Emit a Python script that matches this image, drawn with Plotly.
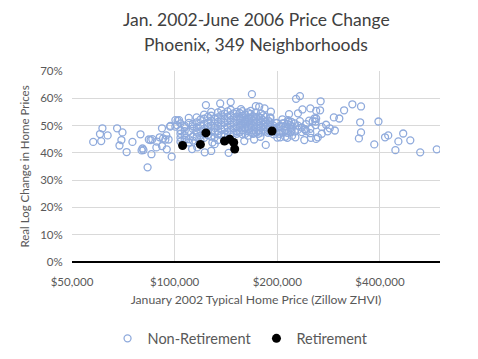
import math
import plotly.graph_objects as go

# Non-retirement neighborhoods: (January 2002 price in $ thousands, real log change in %)
left_tail = [
    (57.7, 44.0), (61.4, 49.0), (60.4, 46.9), (63.6, 46.4), (60.9, 44.3), (67.8, 49.0),
    (70.3, 47.5), (69.8, 44.7), (68.9, 42.7), (72.3, 40.3), (75.2, 44.0), (79.4, 46.8),
    (83.3, 34.7), (80.5, 41.6), (81.0, 41.0), (80.0, 40.9), (85.5, 39.5), (84.0, 44.9),
    (85.0, 44.7), (86.0, 45.0), (88.4, 42.0), (88.7, 44.1), (90.4, 45.7), (92.5, 45.3),
    (93.9, 44.9), (96.0, 44.9), (94.5, 46.4), (91.8, 49.0), (91.8, 42.5), (94.8, 41.3),
    (97.1, 49.9), (98.0, 38.6), (100.5, 52.0), (102.0, 51.8), (103.0, 52.0), (100.5, 49.6),
    (101.5, 50.2), (97.0, 49.6),
]

upper_and_right = [
    (268, 58.9), (332, 57.8), (352, 57.0), (314, 55.6), (293, 53.0), (304, 52.6),
    (350, 51.2), (396, 51.5), (281, 47.9), (295, 48.2), (352, 47.5), (347, 45.3),
    (385, 43.1), (414, 45.7), (423, 46.4), (468, 47.1), (453, 44.2), (491, 44.6),
    (444, 41.0), (525, 40.2), (587, 41.3), (168.5, 61.5), (227, 59.8), (233, 60.8),
    (123.5, 57.5), (136, 58.1), (146, 58.6), (156.5, 56.0), (173, 57.1), (177, 56.9),
    (183.5, 56.3), (191.5, 55.1), (216.5, 54.2), (230, 54.5), (237, 55.9), (250, 56.3),
    (260, 55.4), (267, 55.6), (233, 51.6), (248, 51.8), (259, 51.5), (257, 52.6),
    (241, 48.5), (219, 49.0), (219, 47.7), (204, 45.7), (214, 45.5), (226, 45.7),
    (213, 47.4), (251, 45.5), (260, 45.1), (263, 45.7), (240, 44.7), (185, 42.9),
    (178.5, 45.9), (171, 44.9), (160, 44.3), (144, 40.0), (128, 40.7), (122.5, 40.2),
    (112.5, 41.4), (116.5, 42.0), (131, 43.2), (134, 44.7), (129, 43.8), (156.5, 50.4),
    (161, 51.6), (156, 52.6), (165, 52.6), (254, 51.6), (259, 50.2), (260, 52.6),
    (241, 48.7), (221, 46.3), (211, 45.9), (200, 45.6), (218, 50.2), (222, 49.6),
    (216, 51.4), (209.5, 50.9), (205, 49.6), (198.5, 50.9), (195.5, 49.0), (190.5, 52.7),
]

core = [
    (104, 45.5), (104, 47.0), (104, 48.3), (104, 50.8), (104, 44.1),
    (107, 46.5), (107, 48.0), (107, 50.0), (107, 44.8), (107, 49.4),
    (110, 45.0), (110, 47.8), (110, 51.0), (110, 52.8), (110, 43.8),
    (113, 46.0), (113, 48.8), (113, 50.5), (113, 44.5), (113, 49.8),
    (116, 47.5), (116, 49.3), (116, 51.2), (116, 45.8), (116, 53.0),
    (119, 48.0), (119, 50.0), (119, 52.2), (119, 46.3), (119, 44.8),
    (122, 47.0), (122, 48.8), (122, 50.6), (122, 52.5), (122, 45.5), (122, 54.0),
    (125, 47.8), (125, 49.4), (125, 51.0), (125, 53.2), (125, 46.5),
    (128, 46.0), (128, 48.0), (128, 50.0), (128, 51.8), (128, 53.6), (128, 55.0),
    (131, 47.5), (131, 49.2), (131, 50.8), (131, 52.4), (131, 45.6),
    (134, 48.0), (134, 49.8), (134, 51.3), (134, 53.0), (134, 54.8), (134, 46.8),
    (137, 46.5), (137, 48.6), (137, 50.2), (137, 52.0), (137, 53.8), (137, 55.5),
    (140, 47.0), (140, 49.0), (140, 51.0), (140, 52.6), (140, 54.4), (140, 46.0),
    (143, 47.8), (143, 49.6), (143, 51.6), (143, 53.3), (143, 55.2),
    (146, 46.8), (146, 48.4), (146, 50.3), (146, 52.0), (146, 53.8), (146, 55.8),
    (149, 47.3), (149, 49.0), (149, 51.0), (149, 52.8), (149, 54.5),
    (152, 48.0), (152, 49.8), (152, 51.7), (152, 53.3), (152, 55.0), (152, 47.0),
    (155, 47.5), (155, 49.3), (155, 51.0), (155, 52.8), (155, 54.6),
    (158, 48.3), (158, 50.0), (158, 51.8), (158, 53.5), (158, 55.3), (158, 46.8),
    (161, 47.0), (161, 49.0), (161, 50.8), (161, 52.3), (161, 54.0),
    (164, 48.0), (164, 49.6), (164, 51.3), (164, 53.0), (164, 54.8), (164, 46.3),
    (167, 47.5), (167, 49.2), (167, 50.8), (167, 52.6), (167, 54.3), (167, 55.4),
    (170, 48.2), (170, 50.0), (170, 51.8), (170, 53.4), (170, 47.0),
    (173, 47.6), (173, 49.4), (173, 51.2), (173, 53.0), (173, 54.8),
    (176, 48.0), (176, 49.8), (176, 51.5), (176, 53.3), (176, 47.0),
    (179, 47.4), (179, 49.2), (179, 51.0), (179, 52.8), (179, 54.5),
    (182, 48.5), (182, 50.3), (182, 52.0), (182, 53.8),
    (185, 47.8), (185, 49.6), (185, 51.4), (185, 53.2),
    (188, 48.3), (188, 50.0), (188, 51.8), (188, 47.3),
    (191, 47.6), (191, 49.5), (191, 51.2), (191, 53.0),
    (195, 48.0), (195, 50.0), (195, 46.8),
    (199, 47.5), (199, 49.2), (199, 51.0),
    (203, 48.0), (203, 49.8), (203, 47.0),
    (207, 47.5), (207, 50.8), (207, 52.3),
    (211, 48.0), (211, 49.6),
    (215, 47.3), (215, 50.5), (215, 52.0),
    (220, 48.2), (220, 51.3),
    (225, 47.8), (225, 50.8),
    (230, 48.5), (230, 50.0),
    (236, 47.6), (236, 49.3),
    (243, 48.0), (243, 50.5),
    (250, 48.8), (250, 47.2),
    (270, 49.5), (270, 47.0),
    (278, 50.3),
    (285, 49.0),
]

# Retirement neighborhoods
retire_price_k = [105.5, 119.0, 123.5, 140.0, 145.0, 149.0, 150.0, 193.0]
retire_change = [42.7, 43.1, 47.3, 44.3, 45.0, 43.8, 41.4, 48.0]

x_ticks = [50000, 100000, 200000, 400000]
x_tick_labels = ["$50,000", "$100,000", "$200,000", "$400,000"]
y_ticks = [0, 10, 20, 30, 40, 50, 60, 70]
y_tick_labels = ["0%", "10%", "20%", "30%", "40%", "50%", "60%", "70%"]

nonret = left_tail + upper_and_right + core
nonret_price = [p * 1000 for p, _ in nonret]
nonret_change = [c for _, c in nonret]

fig = go.Figure()
fig.add_trace(go.Scatter(
    x=nonret_price, y=nonret_change, mode="markers", name="Non-Retirement",
    marker=dict(symbol="circle-open", size=7, color="#8FAADC", line=dict(width=1.3)),
))
fig.add_trace(go.Scatter(
    x=[p * 1000 for p in retire_price_k], y=retire_change, mode="markers", name="Retirement",
    marker=dict(symbol="circle", size=9, color="#000000"),
))

font_family = "Lato, 'Open Sans', sans-serif"
title_color = "#404040"
# The page body adds an 8px margin, so the figure is 8px smaller on each axis.
fig.update_layout(
    width=470, height=351,
    margin=dict(l=64, r=38, t=63, b=97, autoexpand=False),
    paper_bgcolor="white", plot_bgcolor="white",
    font=dict(family=font_family, color="#595959"),
    showlegend=True,
    legend=dict(
        orientation="h", x=0.458, xanchor="center", y=-0.40, yanchor="middle",
        font=dict(size=14.5, color="#595959"), itemsizing="trace", itemwidth=30,
    ),
    xaxis=dict(
        type="log",
        range=[math.log10(50000), math.log10(600000)],
        tickvals=x_ticks, ticktext=x_tick_labels,
        showgrid=True, gridcolor="#D9D9D9", gridwidth=1,
        showline=False, zeroline=False,
        ticks="outside", ticklen=9, tickcolor="rgba(0,0,0,0)",
        tickfont=dict(size=11.5, color="#595959"),
        title=dict(text="January 2002 Typical Home Price (Zillow ZHVI)",
                   font=dict(size=12.2, color="#595959"), standoff=8),
    ),
    yaxis=dict(
        range=[0, 70], tickvals=y_ticks, ticktext=y_tick_labels,
        showgrid=True, gridcolor="#D9D9D9", gridwidth=1,
        zeroline=True, zerolinecolor="#000000", zerolinewidth=1.5,
        showline=False,
        ticks="outside", ticklen=6, tickcolor="rgba(0,0,0,0)",
        tickfont=dict(size=11.5, color="#595959"),
        title=dict(text="Real Log Change in Home Prices",
                   font=dict(size=11.5, color="#595959"), standoff=8),
    ),
)
# Title as two centred lines above the plot area
fig.add_annotation(text="Jan. 2002-June 2006 Price Change", xref="paper", yref="paper",
                   x=0.5, y=1.0, yshift=63, xanchor="center", yanchor="top", borderpad=0,
                   showarrow=False, font=dict(family=font_family, size=17.5, color=title_color))
fig.add_annotation(text="Phoenix, 349 Neighborhoods", xref="paper", yref="paper",
                   x=0.5, y=1.0, yshift=27, xanchor="center", yanchor="middle",
                   showarrow=False, font=dict(family=font_family, size=17.5, color=title_color))

fig.write_html("out.html")
